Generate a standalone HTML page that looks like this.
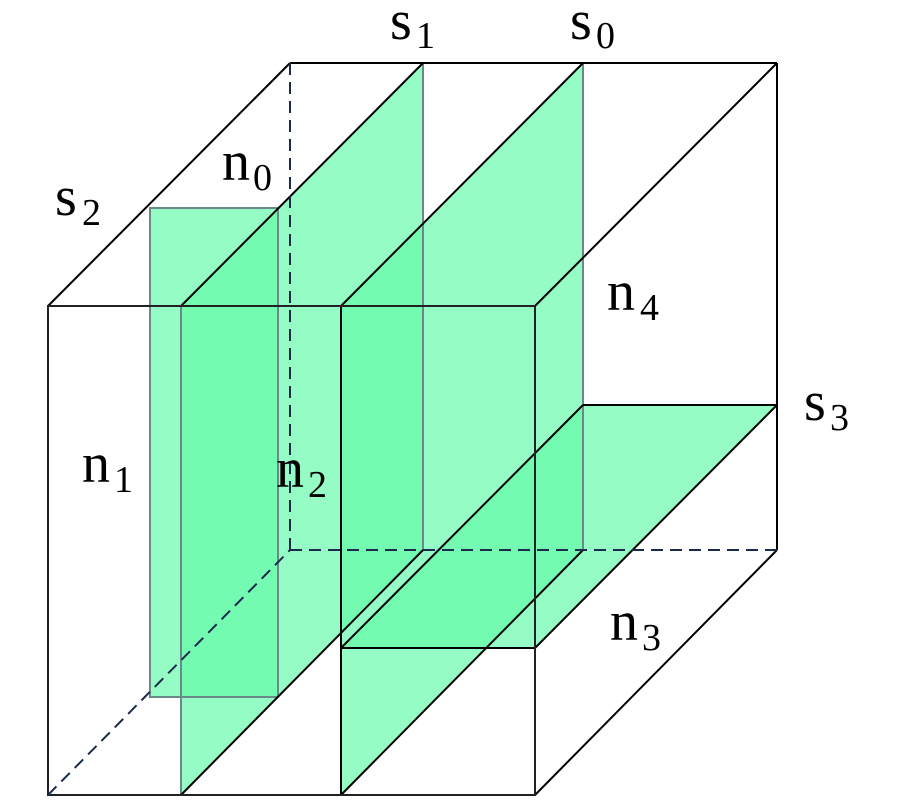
<!DOCTYPE html>
<html><head><meta charset="utf-8"><style>
html,body{margin:0;padding:0;background:#fff;}
svg{display:block;}
text{font-family:"Liberation Serif","Times New Roman",serif;fill:#000;}
.b{font-size:56px;}
.s{font-size:38px;}
</style></head><body>
<svg width="900" height="800" viewBox="0 0 900 800" xmlns="http://www.w3.org/2000/svg">
<g fill="#66fbab" fill-opacity="0.7" stroke="none">
<rect x="150" y="208" width="128" height="489"/>
<polygon points="181,306 423,63 423,550 181,795"/>
<polygon points="341,306 583,63 583,550 341,795"/>
<polygon points="341,648 535,648 777,405 583,405"/>
</g>
<g fill="none" stroke="#6a8a8a" stroke-width="2">
<rect x="150" y="208" width="128" height="489"/>
<line x1="423" y1="63" x2="423" y2="550"/>
<line x1="181" y1="306" x2="181" y2="795"/>
<line x1="583" y1="63" x2="583" y2="550"/>
</g>
<g fill="none" stroke="#000" stroke-width="2">
<line x1="48" y1="306" x2="290" y2="63"/>
<line x1="290" y1="63" x2="777" y2="63"/>
<line x1="777" y1="63" x2="777" y2="550"/>
<line x1="535" y1="306" x2="777" y2="63"/>
<line x1="535" y1="795" x2="777" y2="550"/>
<line x1="181" y1="306" x2="423" y2="63"/>
<line x1="341" y1="306" x2="583" y2="63"/>
<line x1="181" y1="795" x2="423" y2="550"/>
<line x1="341" y1="795" x2="583" y2="550"/>
<line x1="341" y1="648" x2="583" y2="405"/>
<line x1="535" y1="648" x2="777" y2="405"/>
<line x1="583" y1="405" x2="777" y2="405"/>
<line x1="341" y1="648" x2="535" y2="648"/>
<line x1="341" y1="306" x2="341" y2="795"/>
<rect x="48" y="306" width="487" height="489" stroke="#222"/>
</g>
<g fill="none" stroke="#1a2a4a" stroke-width="2" stroke-dasharray="12,7">
<line x1="290" y1="63" x2="290" y2="550"/>
<line x1="290" y1="550" x2="777" y2="550"/>
<line x1="48" y1="795" x2="290" y2="550"/>
</g>
<text class="b" x="390" y="39">s</text><text class="s" x="416" y="48">1</text>
<text class="b" x="570" y="39">s</text><text class="s" x="596" y="48">0</text>
<text class="b" x="55" y="215">s</text><text class="s" x="82" y="225">2</text>
<text class="b" x="222" y="180">n</text><text class="s" x="253" y="190">0</text>
<text class="b" x="607" y="310">n</text><text class="s" x="640" y="320">4</text>
<text class="b" x="804" y="420">s</text><text class="s" x="830" y="430">3</text>
<text class="b" x="82" y="482">n</text><text class="s" x="114" y="492">1</text>
<text class="b" x="276" y="487">n</text><text class="s" x="308" y="497">2</text>
<text class="b" x="610" y="640">n</text><text class="s" x="642" y="650">3</text>
</svg>
</body></html>
